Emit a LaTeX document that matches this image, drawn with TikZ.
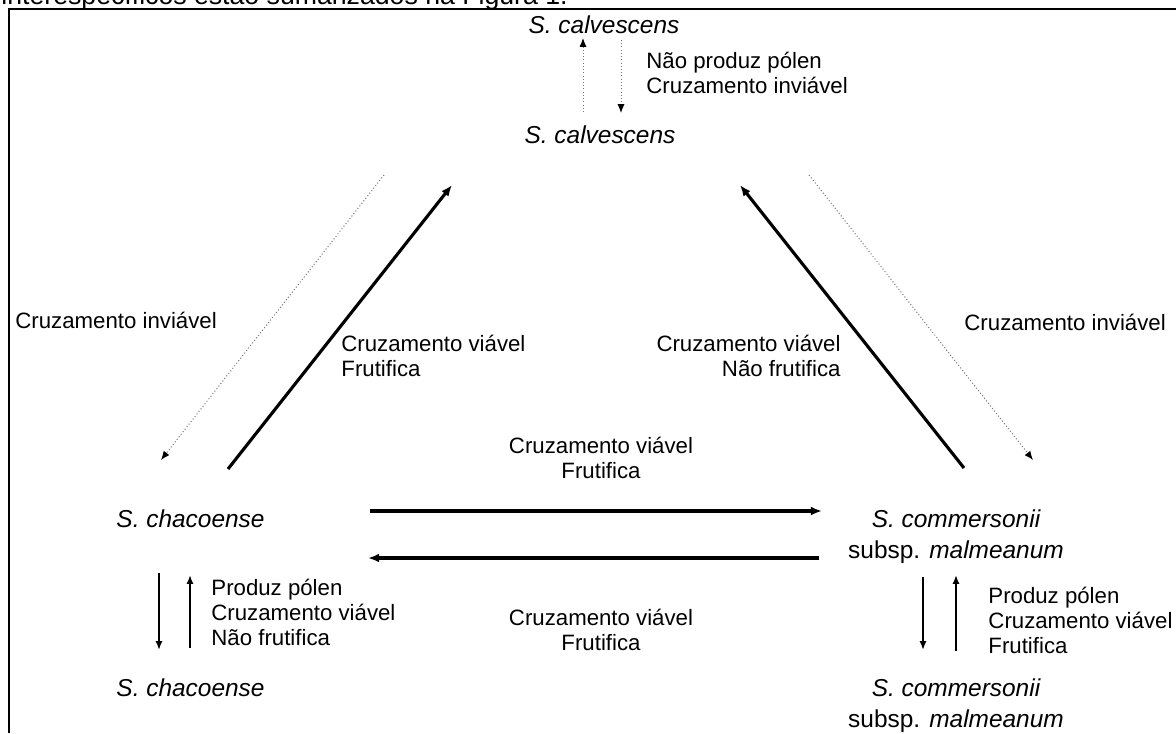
\documentclass[tikz,border=0pt]{standalone}
\usepackage{fontspec}
\setmainfont{Liberation Sans}
\usetikzlibrary{arrows.meta,positioning}

\tikzset{
  lbl/.style={inner sep=0pt, font=\fontsize{10}{11.25}\selectfont},
  spname/.style={inner sep=0pt, font=\fontsize{11}{13.95}\selectfont\itshape},
  crossok/.style={-{Latex[length=5pt,width=4pt]}, line width=1.4pt},
  selfarr/.style={-{Latex[length=4pt,width=3.2pt]}, line width=1.1pt},
  crossno/.style={-{Latex[length=4pt,width=3.2pt,black]}, black!55, line width=0.45pt, densely dotted},
}

\begin{document}
\begin{tikzpicture}[x=0.45pt,y=-0.45pt]
    \useasboundingbox (0,0) rectangle (1176,733);
    \begin{scope}
      \clip (0,0) rectangle (1176,733);
      \node[inner sep=0pt, anchor=base west, font=\fontsize{12}{14}\selectfont] (caption) at (1,4) {interespecíficos estão sumarizados na Figura 1.};
    \end{scope}
    \draw[line width=0.9pt] (1176,9) -| (9,733);

    % species (base = last line)
    \node[spname, anchor=base] (calvT) at (604,33) {S. calvescens};
    \node[spname, anchor=base] (calvB) at (600,143) {S. calvescens};
    \node[spname, anchor=base west] (chacU) at (116,527) {S. chacoense};
    \node[spname, anchor=base west] (chacL) at (116,696) {S. chacoense};
    \node[spname, anchor=base, align=center] (commU) at (956,558) {S. commersonii\\\textup{subsp.} malmeanum};
    \node[spname, anchor=base, align=center] (commL) at (956,727) {S. commersonii\\\textup{subsp.} malmeanum};

    % labels
    \node[lbl, anchor=base west, align=left] (calvSelf) at (646,93) {Não produz pólen\\Cruzamento inviável};
    \node[lbl, anchor=base west] (leftNo) at (15,328) {Cruzamento inviável};
    \node[lbl, anchor=base west, align=left] (leftOk) at (341,376) {Cruzamento viável\\Frutifica};
    \node[lbl, anchor=base east, align=right] (rightOk) at (841,376) {Cruzamento viável\\Não frutifica};
    \node[lbl, anchor=base west] (rightNo) at (964,330) {Cruzamento inviável};
    \node[lbl, anchor=base, align=center] (midTop) at (601,478) {Cruzamento viável\\Frutifica};
    \node[lbl, anchor=base, align=center] (midBot) at (601,650) {Cruzamento viável\\Frutifica};
    \node[lbl, anchor=base west, align=left] (chacSelf) at (211,645) {Produz pólen\\Cruzamento viável\\Não frutifica};
    \node[lbl, anchor=base west, align=left] (commSelf) at (988,653) {Produz pólen\\Cruzamento viável\\Frutifica};

    % arrow ends
    \coordinate (cu1) at (583,112);  \coordinate (cu2) at (583,38);
    \coordinate (cd1) at (621,40);   \coordinate (cd2) at (621,113);
    \coordinate (ln1) at (384,175);  \coordinate (ln2) at (161,460);
    \coordinate (lo1) at (228,469);  \coordinate (lo2) at (452,185);
    \coordinate (ro1) at (964,468);  \coordinate (ro2) at (740,185);
    \coordinate (rn1) at (809,175);  \coordinate (rn2) at (1033,460);
    \coordinate (hr1) at (370,511);  \coordinate (hr2) at (822,511);
    \coordinate (hl1) at (819,558);  \coordinate (hl2) at (368,558);
    \coordinate (cs1) at (159,573);  \coordinate (cs2) at (159,650);
    \coordinate (cs3) at (190,648);  \coordinate (cs4) at (190,575);
    \coordinate (ms1) at (923,577);  \coordinate (ms2) at (923,650);
    \coordinate (ms3) at (956,651);  \coordinate (ms4) at (956,575);

    \draw[crossno] (cu1) -- (cu2);
    \draw[crossno] (cd1) -- (cd2);
    \draw[crossno] (ln1) -- (ln2);
    \draw[crossno] (rn1) -- (rn2);
    \draw[crossok] (lo1) -- (lo2);
    \draw[crossok] (ro1) -- (ro2);
    \draw[crossok] (hr1) -- (hr2);
    \draw[crossok] (hl1) -- (hl2);
    \draw[selfarr] (cs1) -- (cs2);
    \draw[selfarr] (cs3) -- (cs4);
    \draw[selfarr] (ms1) -- (ms2);
    \draw[selfarr] (ms3) -- (ms4);
\end{tikzpicture}
\end{document}
